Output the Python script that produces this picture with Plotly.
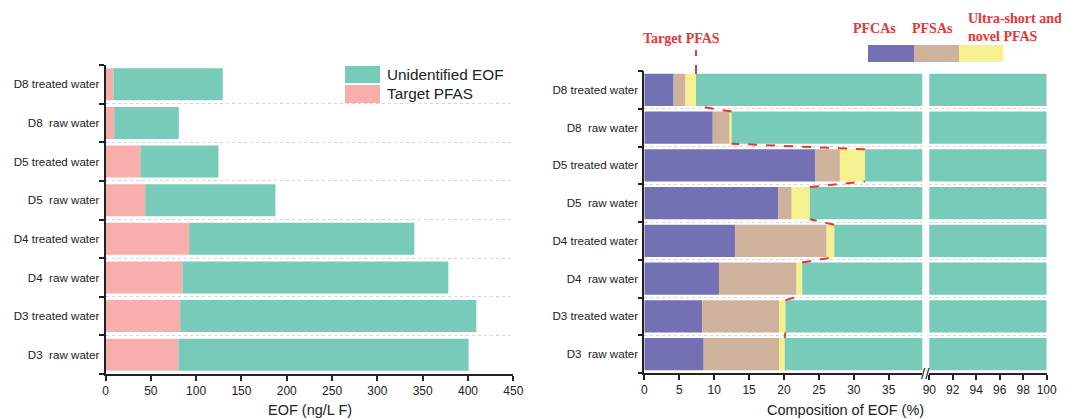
import plotly.graph_objects as go

# ---------------- data (listed top to bottom as in picture) ----------------
samples = ["D8 treated water", "D8  raw water", "D5 treated water", "D5  raw water",
           "D4 treated water", "D4  raw water", "D3 treated water", "D3  raw water"]
target_pfas = [8.8, 9.6, 38.6, 43.8, 92.3, 84.9, 82.4, 80.5]          # ng/L F
total_eof = [129.4, 80.9, 124.6, 187.5, 340.8, 378.3, 409.2, 400.7]   # ng/L F
pfca_pct = [4.2, 9.8, 24.5, 19.2, 13.0, 10.7, 8.3, 8.5]
pfsa_pct = [1.7, 2.5, 3.5, 1.9, 13.1, 11.1, 11.0, 10.8]
ultra_pct = [1.5, 0.2, 3.6, 2.6, 1.1, 0.8, 0.9, 0.8]
left_ticks = [0, 50, 100, 150, 200, 250, 300, 350, 400, 450]
right_ticks_a = [0, 5, 10, 15, 20, 25, 30, 35]
right_ticks_b = [90, 92, 94, 96, 98, 100]

# reverse so that bottom row = index 0
cats = samples[::-1]
tp = target_pfas[::-1]
tot = total_eof[::-1]
unid = [t - p for t, p in zip(tot, tp)]
pfca = pfca_pct[::-1]
pfsa = pfsa_pct[::-1]
ultra = ultra_pct[::-1]
end_pct = [a + b + c for a, b, c in zip(pfca, pfsa, ultra)]
unid_pct = [100 - e for e in end_pct]
ypos = list(range(len(cats)))

TEAL = "#79CBB9"
PINK = "#F8AEAD"
PURPLE = "#7470B4"
TAN = "#CFB29C"
YELLOW = "#F7F08E"
RED = "#E6363A"
FONT = "Liberation Sans, Arial, sans-serif"
SERIF = "Liberation Serif, Times New Roman, serif"

# page body has an 8px margin, so the figure is placed at (8, 8)
OFF = 8
W, H = 1069 - OFF, 419 - OFF
def px(x):
    return (x - OFF) / W
def py(y):
    return (H - (y - OFF)) / H

LW = 0.83
RW = 0.85

fig = go.Figure()
# left chart
fig.add_bar(y=ypos, x=tp, orientation="h", marker=dict(color=PINK, line_width=0),
            width=LW, xaxis="x", yaxis="y", name="Target PFAS", showlegend=False)
fig.add_bar(y=ypos, x=unid, base=tp, orientation="h", marker=dict(color=TEAL, line_width=0),
            width=LW, xaxis="x", yaxis="y", name="Unidentified EOF", showlegend=False)

# right chart (two panels for broken axis)
for xa, ya in (("x2", "y2"), ("x3", "y3")):
    base = [0] * len(cats)
    for vals, col, nm in ((pfca, PURPLE, "PFCAs"), (pfsa, TAN, "PFSAs"),
                          (ultra, YELLOW, "Ultra-short and novel PFAS"),
                          (unid_pct, TEAL, "Unidentified EOF")):
        fig.add_bar(y=ypos, x=vals, base=base, orientation="h",
                    marker=dict(color=col, line_width=0), width=RW,
                    xaxis=xa, yaxis=ya, name=nm, showlegend=False)
        base = [b + v for b, v in zip(base, vals)]

# red dashed connectors between ends of target PFAS segments
h = RW / 2
for i in range(len(cats) - 1):
    fig.add_scatter(x=[end_pct[i], end_pct[i + 1]], y=[i + h, i + 1 - h],
                    mode="lines", line=dict(color=RED, width=2, dash="dash"),
                    xaxis="x2", yaxis="y2", showlegend=False, hoverinfo="skip")

shapes = []
# vertical dashed line from top bar up to "Target PFAS" label
shapes.append(dict(type="line", xref="x2", yref="paper",
                   x0=end_pct[-1], x1=end_pct[-1], y0=py(74), y1=py(50),
                   line=dict(color=RED, width=2, dash="dash")))
# left legend boxes
shapes.append(dict(type="rect", xref="paper", yref="paper", x0=px(345), x1=px(380),
                   y0=py(83), y1=py(66), fillcolor=TEAL, line_width=0))
shapes.append(dict(type="rect", xref="paper", yref="paper", x0=px(345), x1=px(380),
                   y0=py(103), y1=py(85), fillcolor=PINK, line_width=0))
# right legend boxes
for x0, x1, c in ((868, 914, PURPLE), (914, 959, TAN), (959, 1003, YELLOW)):
    shapes.append(dict(type="rect", xref="paper", yref="paper", x0=px(x0), x1=px(x1),
                       y0=py(62), y1=py(45), fillcolor=c, line_width=0))

annotations = [
    dict(text="Unidentified EOF", x=px(385), y=py(74), xref="paper", yref="paper",
         xanchor="left", yanchor="middle", showarrow=False,
         font=dict(family=FONT, size=15.3, color="#222")),
    dict(text="Target PFAS", x=px(385), y=py(94), xref="paper", yref="paper",
         xanchor="left", yanchor="middle", showarrow=False,
         font=dict(family=FONT, size=15.3, color="#222")),
    dict(text="<b>Target PFAS</b>", x=px(681), y=py(38), xref="paper", yref="paper",
         xanchor="center", yanchor="middle", showarrow=False,
         font=dict(family=SERIF, size=14, color=RED)),
    dict(text="<b>PFCAs</b>", x=px(874), y=py(28), xref="paper", yref="paper",
         xanchor="center", yanchor="middle", showarrow=False,
         font=dict(family=SERIF, size=14, color=RED)),
    dict(text="<b>PFSAs</b>", x=px(932), y=py(28), xref="paper", yref="paper",
         xanchor="center", yanchor="middle", showarrow=False,
         font=dict(family=SERIF, size=14, color=RED)),
    dict(text="<b>Ultra-short and<br>novel PFAS</b>", x=px(966), y=py(27), xref="paper",
         yref="paper", xanchor="left", yanchor="middle", align="left", showarrow=False,
         font=dict(family=SERIF, size=14, color=RED)),
    dict(text="//", x=px(925.5), y=py(373), xref="paper", yref="paper",
         xanchor="center", yanchor="middle", showarrow=False,
         font=dict(family=FONT, size=15, color="#222")),
    dict(text="EOF (ng/L F)", x=px(309.5), y=py(410), xref="paper", yref="paper",
         xanchor="center", yanchor="middle", showarrow=False,
         font=dict(family=FONT, size=14.5, color="#222")),
    dict(text="Composition of EOF (%)", x=px(845), y=py(410), xref="paper", yref="paper",
         xanchor="center", yanchor="middle", showarrow=False,
         font=dict(family=FONT, size=14.5, color="#222")),
]

boundaries = [i - 0.5 for i in range(len(cats) + 1)]
minor_y = dict(tickvals=boundaries, ticks="outside", ticklen=5, tickcolor="#222",
               tickwidth=1.5, showgrid=True, griddash="dot", gridcolor="#d4d4d4", gridwidth=1)
tickfont = dict(family=FONT, size=12, color="#222")
ylabfont = dict(family=FONT, size=11.6, color="#222")
common_x = dict(showline=True, linecolor="#222", linewidth=1.6, ticks="outside",
                ticklen=5, tickwidth=1.5, tickcolor="#222", showgrid=False,
                zeroline=False, tickfont=tickfont, automargin=False)

fig.update_layout(
    width=W, height=H, margin=dict(l=0, r=0, t=0, b=0, autoexpand=False),
    paper_bgcolor="white", plot_bgcolor="white", barmode="overlay",
    showlegend=False, shapes=shapes, annotations=annotations,
    xaxis=dict(domain=[px(105.5), px(513.3)], range=[0, 450], tickvals=left_ticks,
               anchor="y", **common_x),
    yaxis=dict(domain=[py(374), py(65)], range=[-0.5, len(cats) - 0.5], anchor="x",
               tickvals=ypos, ticktext=cats, ticks="", showgrid=False, zeroline=False,
               showline=True, linecolor="#222", linewidth=1.6, tickfont=ylabfont,
               minor=minor_y, ticklabelstandoff=2, automargin=False),
    xaxis2=dict(domain=[px(644.3), px(922.3)], range=[0, 39.8], tickvals=right_ticks_a,
                anchor="y2", **common_x),
    yaxis2=dict(domain=[py(373), py(71)], range=[-0.5, len(cats) - 0.5], anchor="x2",
                tickvals=ypos, ticktext=cats, ticks="", showgrid=False, zeroline=False,
                showline=True, linecolor="#222", linewidth=1.6, tickfont=ylabfont,
                minor=minor_y, ticklabelstandoff=2, automargin=False),
    xaxis3=dict(domain=[px(929.3), px(1046.7)], range=[90, 100], tickvals=right_ticks_b,
                anchor="y3", **common_x),
    yaxis3=dict(domain=[py(373), py(71)], range=[-0.5, len(cats) - 0.5], anchor="x3",
                showticklabels=False, ticks="", showgrid=False, zeroline=False,
                showline=False, automargin=False,
                minor=dict(tickvals=boundaries, ticks="", showgrid=True, griddash="dot",
                           gridcolor="#d4d4d4", gridwidth=1)),
)

fig.write_html("out.html")
